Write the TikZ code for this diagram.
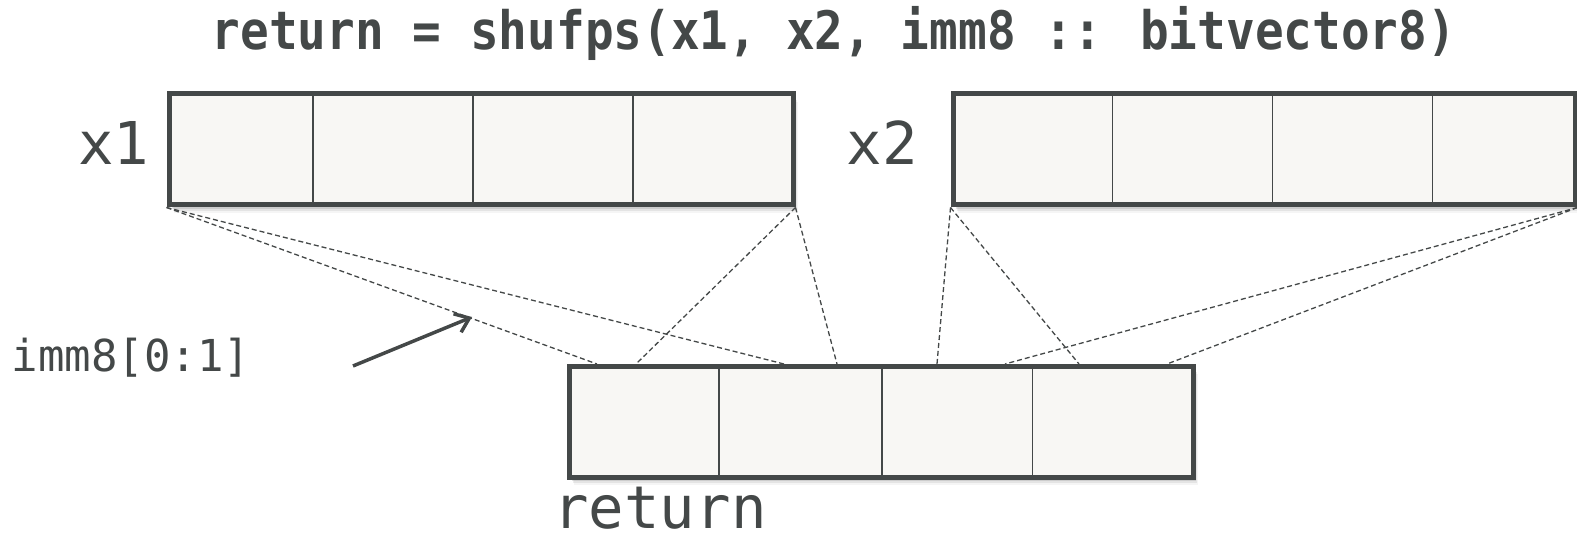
\documentclass[tikz,border=0pt]{standalone}
\usepackage{fontspec}
\setmonofont{DejaVu Sans Mono}
\newfontfamily\titlefont[FakeStretch=0.9]{DejaVu Sans Mono Bold}
\usetikzlibrary{arrows.meta}
\definecolor{ink}{HTML}{444848}
\definecolor{cellfill}{HTML}{F8F7F4}

\begin{document}
\begin{tikzpicture}[x=1pt,y=-1pt,
  softshadow/.style={
    preaction={fill=black,opacity=0.14,transform canvas={xshift=1.5pt,yshift=-2pt}},
    preaction={fill=black,opacity=0.10,transform canvas={xshift=3pt,yshift=-4pt}},
    preaction={fill=black,opacity=0.07,transform canvas={xshift=4pt,yshift=-6pt}},
    preaction={fill=black,opacity=0.04,transform canvas={xshift=5pt,yshift=-8pt}}},
  reg/.style={draw=ink, line width=5pt, fill=cellfill, minimum height=111pt,
    inner sep=0pt, softshadow},
  divider/.style={draw=ink, line width=1.8pt},
  route/.style={draw=ink, line width=1.3pt, dash pattern=on 5pt off 3pt},
  pointer/.style={draw=ink, line width=3.5pt,
    -{Straight Barb[length=13pt,width=20pt,line width=3.5pt]}},
  lbl/.style={text=ink, inner sep=0pt, anchor=base},
  biglbl/.style={lbl, font=\ttfamily\fontsize{59pt}{59pt}\selectfont},
]
\useasboundingbox (0,0) rectangle (1577,534);

% title
\node[lbl, font=\titlefont\fontsize{53pt}{53pt}\selectfont] (title)
  at (834,50) {return = shufps(x1, x2, imm8 :: bitvector8)};

% the three registers
\node[reg, minimum width=624pt] (x1box) at (481,149.5) {};
\node[reg, minimum width=622pt] (x2box) at (1264,149.5) {};
\node[reg, minimum width=624pt, minimum height=110.5pt] (retbox) at (881,421.75) {};

% lane dividers
\foreach \d in {312.7,472.7,633} \draw[divider] (\d,94) -- (\d,205);
\foreach \d in {1112.5,1272.5,1432.5} \draw[divider] (\d,94) -- (\d,205);
\foreach \d in {719,882,1032.5} \draw[divider] (\d,366.5) -- (\d,476.5);

% register labels
\node[biglbl] (x1lbl) at (114,165) {x1};
\node[biglbl] (x2lbl) at (882,165) {x2};
\node[biglbl] (retlbl) at (660,528) {return};
\node[lbl, font=\ttfamily\fontsize{44pt}{44pt}\selectfont] (immlbl) at (131,371.5) {imm8[0:1]};

% landing points on the result register
\coordinate (r1) at (retbox.north -| 597,0);
\coordinate (r2) at (retbox.north -| 636,0);
\coordinate (r3) at (retbox.north -| 784,0);
\coordinate (r4) at (retbox.north -| 837,0);
\coordinate (r5) at (retbox.north -| 937,0);
\coordinate (r6) at (retbox.north -| 1005,0);
\coordinate (r7) at (retbox.north -| 1079,0);
\coordinate (r8) at (retbox.north -| 1167,0);

% possible source lanes
\draw[route] (x1box.south west) -- (r1);
\draw[route] (x1box.south west) -- (r3);
\draw[route] (x1box.south east) -- (r2);
\draw[route] (x1box.south east) -- (r4);
\draw[route] (x2box.south west) -- (r5);
\draw[route] (x2box.south west) -- (r7);
\draw[route] (x2box.south east) -- (r6);
\draw[route] (x2box.south east) -- (r8);

% selector pointer
\coordinate (ptail) at (353,366);
\coordinate (phead) at (472,317);
\draw[pointer] (ptail) -- (phead);
\end{tikzpicture}
\end{document}
